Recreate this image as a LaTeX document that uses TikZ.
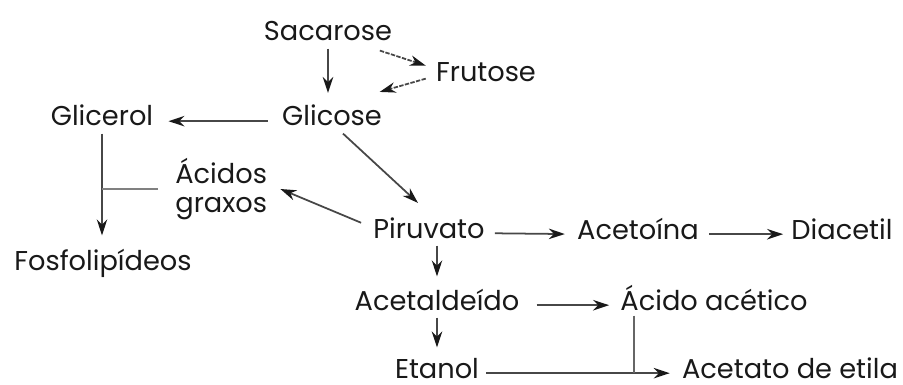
\documentclass[tikz,border=0pt]{standalone}
\usepackage{fontspec}
\setmainfont{Poppins}
\usepackage{tikz}
\usetikzlibrary{arrows.meta,calc}

\begin{document}
\begin{tikzpicture}[x=0.02cm, y=-0.02cm,
    every node/.style={inner sep=0pt, text=black!90, font=\fontsize{15.5}{16.5}\selectfont},
    comp/.style={anchor=base},
    arr/.style={-{Stealth[length=0.32cm, width=0.21cm, color=black!90]}, line width=1pt, draw=black!72},
    link/.style={line width=0.9pt, draw=black!50}]
  \useasboundingbox (0,0) rectangle (903,385);

  % --- compounds ---
  \node[comp] (sac) at (328,41)  {Sacarose};
  \node[comp] (fru) at (486,82)  {Frutose};
  \node[comp] (glc) at (332,126) {Glicose};
  \node[comp] (glr) at (102,126) {Glicerol};
  \node[anchor=west, align=left] (acg) at (175,189) {Ácidos\\graxos};
  \node[comp] (fos) at (103,270) {Fosfolipídeos};
  \node[comp] (pir) at (429,238) {Piruvato};
  \node[comp] (act) at (638,239) {Acetoína};
  \node[comp] (dia) at (842,239) {Diacetil};
  \node[comp] (ald) at (437,310) {Acetaldeído};
  \node[comp] (aac) at (714,310) {Ácido acético};
  \node[comp] (eta) at (437,378) {Etanol};
  \node[comp] (ace) at (790,378) {Acetato de etila};

  % --- sugars ---
  \draw[arr, shorten <=0.14cm, shorten >=0.24cm] (sac.south) -- (sac.south |- glc.north);
  \draw[arr, dash pattern=on 2.5pt off 0.8pt]
    ([xshift=-0.25cm, yshift=-0.18cm]sac.south east) -- ([xshift=-0.2cm, yshift=0.14cm]fru.west);
  \draw[arr, dash pattern=on 2.5pt off 0.8pt]
    ([xshift=-0.2cm, yshift=-0.12cm]fru.west) -- ([xshift=-0.05cm, yshift=0.26cm]glc.north east);
  \draw[arr, shorten <=0.28cm, shorten >=0.3cm] (glc.mid west) -- (glr.mid east);

  % --- lipids ---
  \draw[arr, shorten <=0.14cm, shorten >=0.26cm] (glr.south) -- (glr.south |- fos.north);
  \draw[link] ([xshift=-0.34cm]acg.west) -- (acg.west -| glr.south);

  % --- pyruvate branch ---
  \draw[arr] ([xshift=0.22cm, yshift=-0.14cm]glc.south) -- ([xshift=-0.22cm, yshift=0.28cm]pir.north);
  \draw[arr] ([xshift=-0.24cm, yshift=0.1cm]pir.west) -- ([xshift=0.26cm]acg.east);
  \draw[arr, shorten <=0.2cm, shorten >=0.24cm] (pir.mid east) -- (act.mid west);
  \draw[arr, shorten <=0.2cm, shorten >=0.16cm] (act.mid east) -- (dia.mid west);
  \draw[arr, shorten <=0.14cm, shorten >=0.24cm] (ald.north |- pir.south) -- (ald.north);
  \draw[arr, shorten <=0.34cm, shorten >=0.22cm] (ald.mid east) -- (aac.mid west);
  \draw[arr, shorten <=0.14cm, shorten >=0.2cm] (ald.south) -- (eta.north);
  \draw[arr, shorten <=0.14cm, shorten >=0.24cm] (eta.mid east) -- (ace.mid west);
  \draw[link, draw=black!60, shorten <=0.1cm] ([xshift=0.28cm]aac.south west) -- ([xshift=0.28cm]aac.south west |- eta.mid);
\end{tikzpicture}
\end{document}
